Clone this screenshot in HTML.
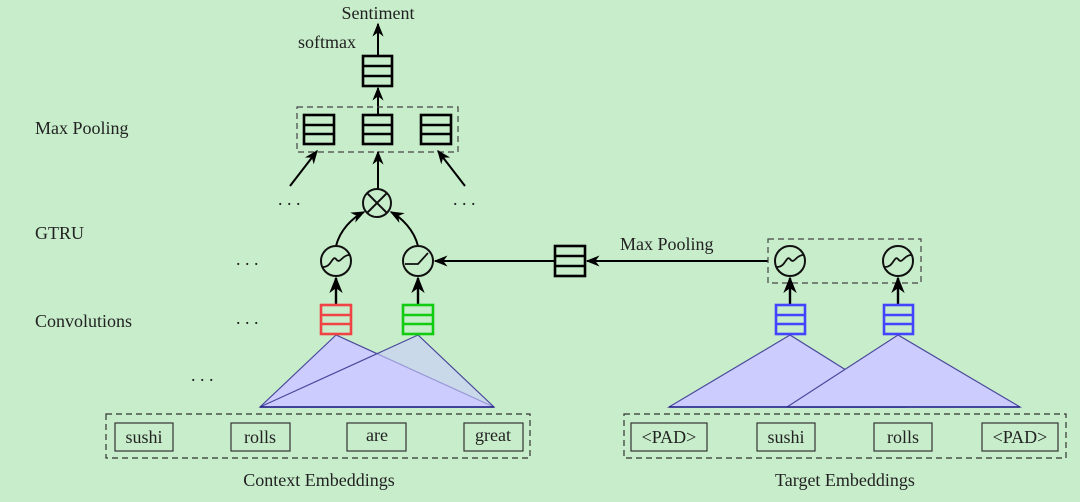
<!DOCTYPE html>
<html><head><meta charset="utf-8"><style>
html,body{margin:0;padding:0;background:#c8edcb;}
svg{display:block;}
text{font-family:"Liberation Serif",serif;font-size:18px;fill:#222;}
</style></head><body>
<svg width="1080" height="502" viewBox="0 0 1080 502" xmlns="http://www.w3.org/2000/svg">
<defs>
<marker id="ar" viewBox="0 0 10 10" refX="9" refY="5" markerWidth="7" markerHeight="7" orient="auto-start-reverse">
<path d="M0,1 L10,5 L0,9 L3,5 Z" fill="#000"/></marker>
<g id="sig"><circle r="15" fill="none" stroke="#111" stroke-width="2"/><path d="M-13,6 C-4,6 -4,-6 0,-2 C4,4 6,-6 13,-6" fill="none" stroke="#111" stroke-width="1.8"/></g>
</defs>
<rect width="1080" height="502" fill="#c8edcb"/>
<!-- top -->
<text x="378" y="19" text-anchor="middle">Sentiment</text>
<text x="298" y="48">softmax</text>
<line x1="378" y1="56" x2="378" y2="24" stroke="#000" stroke-width="2" marker-end="url(#ar)"/>
<g fill="none" stroke="#000" stroke-width="2.6">
<rect x="363" y="56" width="29" height="30"/><line x1="363" y1="66" x2="392" y2="66"/><line x1="363" y1="76" x2="392" y2="76"/>
<rect x="304" y="115" width="30" height="29"/><line x1="304" y1="125" x2="334" y2="125"/><line x1="304" y1="134" x2="334" y2="134"/>
<rect x="363" y="115" width="29" height="29"/><line x1="363" y1="125" x2="392" y2="125"/><line x1="363" y1="134" x2="392" y2="134"/>
<rect x="421" y="115" width="30" height="29"/><line x1="421" y1="125" x2="451" y2="125"/><line x1="421" y1="134" x2="451" y2="134"/>
<rect x="555" y="246" width="30" height="30"/><line x1="555" y1="256" x2="585" y2="256"/><line x1="555" y1="266" x2="585" y2="266"/>
</g>
<line x1="378" y1="115" x2="378" y2="88" stroke="#000" stroke-width="2" marker-end="url(#ar)"/>
<rect x="297" y="107" width="161" height="45" fill="none" stroke="#444" stroke-width="1.2" stroke-dasharray="6,4"/>
<line x1="290" y1="186" x2="317" y2="151" stroke="#000" stroke-width="2" marker-end="url(#ar)"/>
<line x1="465" y1="186" x2="438" y2="151" stroke="#000" stroke-width="2" marker-end="url(#ar)"/>
<line x1="378" y1="189" x2="378" y2="152" stroke="#000" stroke-width="2" marker-end="url(#ar)"/>
<text x="278" y="205">. . .</text>
<text x="453" y="205">. . .</text>
<!-- otimes -->
<circle cx="377" cy="203" r="14" fill="none" stroke="#111" stroke-width="2"/>
<line x1="367" y1="193" x2="387" y2="213" stroke="#111" stroke-width="2"/><line x1="387" y1="193" x2="367" y2="213" stroke="#111" stroke-width="2"/>
<path d="M336,246 C340,230 352,218 364,212" fill="none" stroke="#000" stroke-width="2" marker-end="url(#ar)"/>
<path d="M418,246 C414,230 402,218 391,212" fill="none" stroke="#000" stroke-width="2" marker-end="url(#ar)"/>
<use href="#sig" x="336" y="261"/>
<g transform="translate(418,261)"><circle r="15" fill="none" stroke="#111" stroke-width="2"/><path d="M-13,3 L0,3 L10,-8" fill="none" stroke="#111" stroke-width="1.8"/></g>
<line x1="555" y1="261" x2="435" y2="261" stroke="#000" stroke-width="2" marker-end="url(#ar)"/>
<line x1="768" y1="261" x2="587" y2="261" stroke="#000" stroke-width="2" marker-end="url(#ar)"/>
<text x="620" y="250">Max Pooling</text>
<rect x="768" y="239" width="153" height="44" fill="none" stroke="#444" stroke-width="1.2" stroke-dasharray="6,4"/>
<use href="#sig" x="790" y="261"/>
<use href="#sig" x="898" y="261"/>
<!-- conv boxes -->
<line x1="336" y1="305" x2="336" y2="278" stroke="#000" stroke-width="2.4" marker-end="url(#ar)"/>
<line x1="418" y1="305" x2="418" y2="278" stroke="#000" stroke-width="2.4" marker-end="url(#ar)"/>
<line x1="790" y1="305" x2="790" y2="278" stroke="#000" stroke-width="2.4" marker-end="url(#ar)"/>
<line x1="898" y1="305" x2="898" y2="278" stroke="#000" stroke-width="2.4" marker-end="url(#ar)"/>
<!-- triangles -->
<g fill="#ccccff" stroke="#4a4a9a" stroke-width="1.2">
<polygon points="336,335 260,407 494,407"/>
<polygon points="418,335 260,407 494,407" fill="#ccccff" fill-opacity="0.6"/>
<polygon points="790,335 669,407 905,407"/>
<polygon points="898,335 787,407 1020,407"/>
</g>
<line x1="260" y1="407" x2="494" y2="407" stroke="#22228a" stroke-width="1.4"/>
<line x1="669" y1="407" x2="1020" y2="407" stroke="#22228a" stroke-width="1.4"/>
<g fill="none" stroke-width="2.6">
<g stroke="#f04444"><rect x="321" y="305" width="30" height="29"/><line x1="321" y1="315" x2="351" y2="315"/><line x1="321" y1="324" x2="351" y2="324"/></g>
<g stroke="#11cc11"><rect x="403" y="305" width="30" height="29"/><line x1="403" y1="315" x2="433" y2="315"/><line x1="403" y1="324" x2="433" y2="324"/></g>
<g stroke="#4444ff"><rect x="776" y="305" width="29" height="29"/><line x1="776" y1="315" x2="805" y2="315"/><line x1="776" y1="324" x2="805" y2="324"/>
<rect x="884" y="305" width="29" height="29"/><line x1="884" y1="315" x2="913" y2="315"/><line x1="884" y1="324" x2="913" y2="324"/></g>
</g>
<!-- left labels -->
<text x="35" y="134">Max Pooling</text>
<text x="35" y="239">GTRU</text>
<text x="35" y="327">Convolutions</text>
<text x="236" y="265">. . .</text>
<text x="236" y="324">. . .</text>
<text x="191" y="381">. . .</text>
<!-- embeddings -->
<rect x="106" y="414" width="424" height="44" fill="none" stroke="#333" stroke-width="1.2" stroke-dasharray="6,4"/>
<rect x="624" y="414" width="442" height="44" fill="none" stroke="#333" stroke-width="1.2" stroke-dasharray="6,4"/>
<g fill="none" stroke="#333" stroke-width="1.2">
<rect x="115" y="423" width="58" height="28"/><rect x="231" y="423" width="59" height="28"/><rect x="347" y="423" width="59" height="28"/><rect x="464" y="423" width="59" height="28"/>
<rect x="631" y="423" width="76" height="28"/><rect x="757" y="423" width="58" height="28"/><rect x="874" y="423" width="58" height="28"/><rect x="982" y="423" width="76" height="28"/>
</g>
<g text-anchor="middle">
<text x="144" y="443">sushi</text><text x="260" y="443">rolls</text><text x="377" y="441">are</text><text x="493" y="441">great</text>
<text x="669" y="443">&lt;PAD&gt;</text><text x="786" y="443">sushi</text><text x="903" y="443">rolls</text><text x="1020" y="443">&lt;PAD&gt;</text>
<text x="319" y="486">Context Embeddings</text>
<text x="845" y="486">Target Embeddings</text>
</g>
</svg>
</body></html>
